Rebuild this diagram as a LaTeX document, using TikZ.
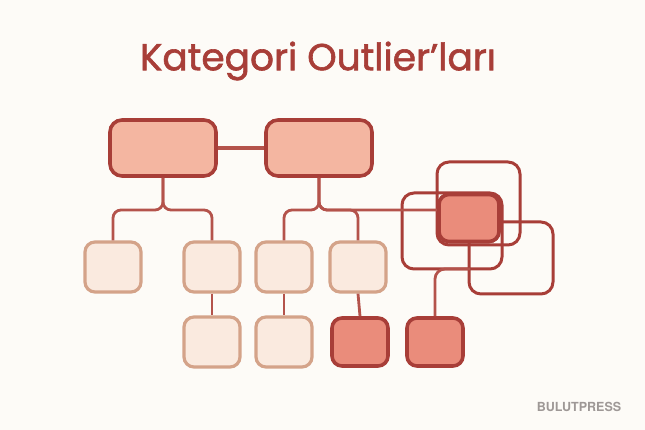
\documentclass[tikz,border=0pt]{standalone}
\usepackage{fontspec}
\setmainfont{Poppins}
\newfontfamily\headfont{Poppins}[FakeBold=1.6]
\newfontfamily\markfont{TeX Gyre Heros}
\usetikzlibrary{positioning}
\definecolor{paper}{HTML}{FDFBF7}
\definecolor{brick}{HTML}{A83E38}
\definecolor{wire}{HTML}{B4534B}
\definecolor{salmon}{HTML}{F4B6A1}
\definecolor{coral}{HTML}{EA8C7B}
\definecolor{cream}{HTML}{FAEADF}
\definecolor{tan}{HTML}{D4A389}
\definecolor{mark}{HTML}{9E9896}

\begin{document}
\begin{tikzpicture}[x=1pt,y=-1pt]
	\tikzset{topbox/.style={draw=brick,fill=salmon,line width=3.6pt,rounded corners=12pt,minimum width=106pt,minimum height=56pt}}
	\tikzset{leaf/.style={draw=tan,fill=cream,line width=3.2pt,rounded corners=10pt,minimum width=56pt,minimum height=50pt}}
	\tikzset{hot/.style={draw=brick,fill=coral,line width=3.6pt,rounded corners=10pt,minimum width=56pt,minimum height=48pt}}
	\tikzset{ring/.style={draw=brick,line width=3pt,rounded corners=12pt}}
	\tikzset{conn/.style={draw=wire,line width=2.8pt,rounded corners=8pt}}
	\fill[paper] (0,0) rectangle (645,430);
	% title
	\node (title) at (318,61) {\headfont\fontsize{37.5}{42}\selectfont\color{brick}Kategori Outlier’ları};
	% overlapping outlines
	\draw[ring] (437,162) rectangle (520,245);
	\draw[ring] (402,193) rectangle (502,269);
	\draw[ring] (469,222) rectangle (553,294);
	% nodes
	\node[topbox] (p1) at (163,148) {};
	\node[topbox] (p2) at (319,148) {};
	\node[leaf] (c1) at (113,267) {};
	\node[leaf] (c2) at (212,267) {};
	\node[leaf] (c3) at (284,267) {};
	\node[leaf] (c4) at (358,267) {};
	\node[leaf] (d1) at (212,342) {};
	\node[leaf] (d2) at (284,342) {};
	\node[hot] (d3) at (360,342) {};
	\node[hot] (d4) at (435,342) {};
	\node[hot,minimum width=60pt,minimum height=47pt] (hub) at (469,218) {};
	\coordinate (fork1) at (163,210);
	\coordinate (fork2) at (319,210);
	\coordinate (tail) at (470,269);
	% connectors
	\draw[conn,line width=3.4pt] (p1.east) -- (p2.west);
	\draw[conn] (p1.south) -- (fork1) -| (c1.north);
	\draw[conn] (p1.south) -- (fork1) -| (c2.north);
	\draw[conn] (p2.south) -- (fork2) -| (c3.north);
	\draw[conn] (p2.south) -- (fork2) -| (c4.north);
	\draw[conn] (p2.south) -- (fork2) -- (fork2 -| hub.west);
	\draw[conn] (c2.south) -- (d1.north);
	\draw[conn] (c3.south) -- (d2.north);
	\draw[conn] (c4.south) -- (d3.north);
	\draw[conn,rounded corners=10pt] (tail) -| (d4.north);
	\node[hot,minimum width=60pt,minimum height=47pt] at (hub) {};
	% watermark
	\node (brand) at (579,407) {\markfont\fontsize{12.5}{14}\selectfont\bfseries\color{mark}BULUTPRESS};
\end{tikzpicture}
\end{document}
